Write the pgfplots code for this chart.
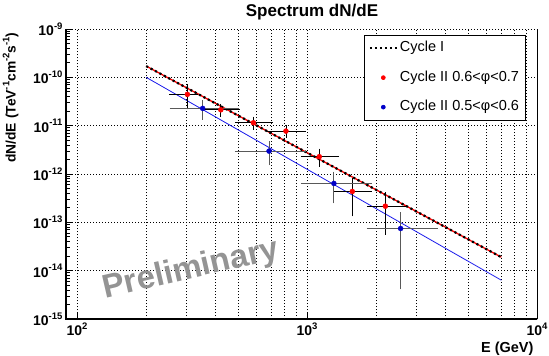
\documentclass[border=0pt]{standalone}
\usepackage{fontspec}
\setmainfont{Liberation Sans}
\usepackage{pgfplots}
\pgfplotsset{compat=1.18}
\usepackage{pgfplotstable}

\definecolor{rootred}{RGB}{255,0,0}
\definecolor{rootblue}{RGB}{0,0,200}
\definecolor{lineblue}{RGB}{25,25,235}

\newcommand{\sups}[2][9.5]{\raisebox{0.45em}{\fontsize{#1}{#1}\selectfont\bfseries #2}}

\pgfplotsset{
  mylinelegend/.style={legend image code/.code={\draw[##1] (0pt,0pt) -- (27pt,0pt);}},
  mymarklegend/.style={legend image code/.code={\draw[mark repeat=2, mark phase=2, ##1, mark size=2pt] plot coordinates {(0pt,0pt) (13.5pt,0pt) (27pt,0pt)};}},
}

\pgfplotstableread{
x exm exp y ey
302 44 24 4.45e-11 2.0e-11
422 65 76 2.13e-11 0.39e-11
585 87 110 1.15e-11 0.22e-11
810 120 154 7.73e-12 1.5e-12
1131 167 215 2.28e-12 0.7e-12
1574 238 292 4.36e-13 2.87e-13
2191 325 434 2.16e-13 1.53e-13
}\redpts

\pgfplotstableread{
x exm exp y ey
352 93 144 2.28e-11 0.77e-11
684 186 279 2.98e-12 1.25e-12
1309 345 557 6.38e-13 3.6e-13
2553 687 1053 7.46e-14 7.0e-14
}\bluepts

\begin{document}
\begin{tikzpicture}
\useasboundingbox (-66pt,-37pt) rectangle (483pt,319pt);
\begin{axis}[
  at={(0pt,0pt)}, anchor=south west,
  scale only axis, width=471pt, height=290pt,
  xmode=log, ymode=log,
  xmin=89.6, xmax=10000, ymin=1e-15, ymax=1e-9,
  axis line style={draw=none},
  tick align=inside, tick pos=left,
  major tick length=7pt, minor tick length=4pt,
  tick style={black, line width=0.8pt},
  minor x tick style={draw=none},
  xtick={100,1000,10000},
  xticklabels={10\sups{2},10\sups{3},10\sups{4}},
  ytick={1e-15,1e-14,1e-13,1e-12,1e-11,1e-10,1e-9},
  yticklabels={10\sups{-15},10\sups{-14},10\sups{-13},10\sups{-12},10\sups{-11},10\sups{-10},10\sups{-9}},
  ticklabel style={font=\bfseries\fontsize{14}{15}\selectfont},
  xmajorgrids, xminorgrids, ymajorgrids,
  major grid style={black, line width=0.5pt, dash pattern=on 1pt off 2pt},
  minor grid style={black, line width=0.5pt, dash pattern=on 1pt off 2pt},
  xlabel={E (GeV)},
  xlabel style={font=\bfseries\fontsize{14.5}{15}\selectfont, at={(axis description cs:1,-0.066)}, anchor=north east},
  ylabel={dN/dE (TeV\sups[9.5]{-1}cm\sups[9.5]{-2}s\sups[9.5]{-1})},
  ylabel style={font=\bfseries\fontsize{13.8}{14}\selectfont, at={(axis description cs:-0.0934,1)}, anchor=south east},
  legend style={at={(axis description cs:0.975,0.979)}, anchor=north east, draw=black, line width=0.6pt, fill=white,
    inner sep=4pt, row sep=12pt, font=\fontsize{14.5}{15}\selectfont,
    nodes={text height=10.5pt, text depth=3pt, inner sep=2pt}},
  legend cell align=left,
]
\addplot[rootred, line width=1.3pt, forget plot] coordinates {(200,1.71e-10) (7000,1.9e-14)};
\addplot[black, line width=2.2pt, dash pattern=on 2.2pt off 2.8pt, mylinelegend] coordinates {(200,1.71e-10) (7000,1.9e-14)};
\addlegendentry{Cycle I}
\addplot[lineblue, line width=0.8pt, forget plot] coordinates {(200,1e-10) (7000,6.35e-15)};
\addplot[only marks, mark=*, mark size=2.5pt, color=rootred, mymarklegend,
  error bars/.cd, x dir=both, x explicit, y dir=both, y explicit,
  error bar style={black, line width=0.8pt},
  error mark options={black, mark size=2.5pt, line width=0.8pt}]
  table[x=x, y=y, x error plus=exp, x error minus=exm, y error plus=ey, y error minus=ey]{\redpts};
\addlegendentry{Cycle II 0.6<φ<0.7}
\addplot[only marks, mark=*, mark size=2.5pt, color=rootblue, mymarklegend,
  error bars/.cd, x dir=both, x explicit, y dir=both, y explicit,
  error bar style={black!65, line width=0.8pt},
  error mark options={black!65, mark size=2.5pt, line width=0.8pt}]
  table[x=x, y=y, x error plus=exp, x error minus=exm, y error plus=ey, y error minus=ey]{\bluepts};
\addlegendentry{Cycle II 0.5<φ<0.6}
\end{axis}
\draw[black, line width=1.5pt] (0pt,290pt) -- (0pt,0pt) -- (471pt,0pt);
\draw[black, line width=0.7pt] (471pt,0pt) -- (471pt,290pt);
\node[rotate=13, text=black!42, font=\bfseries\fontsize{33}{33}\selectfont] at (125pt,49pt) {Preliminary};
\node[font=\bfseries\fontsize{17}{17}\selectfont] at (246pt,307pt) {Spectrum dN/dE};
\end{tikzpicture}
\end{document}
